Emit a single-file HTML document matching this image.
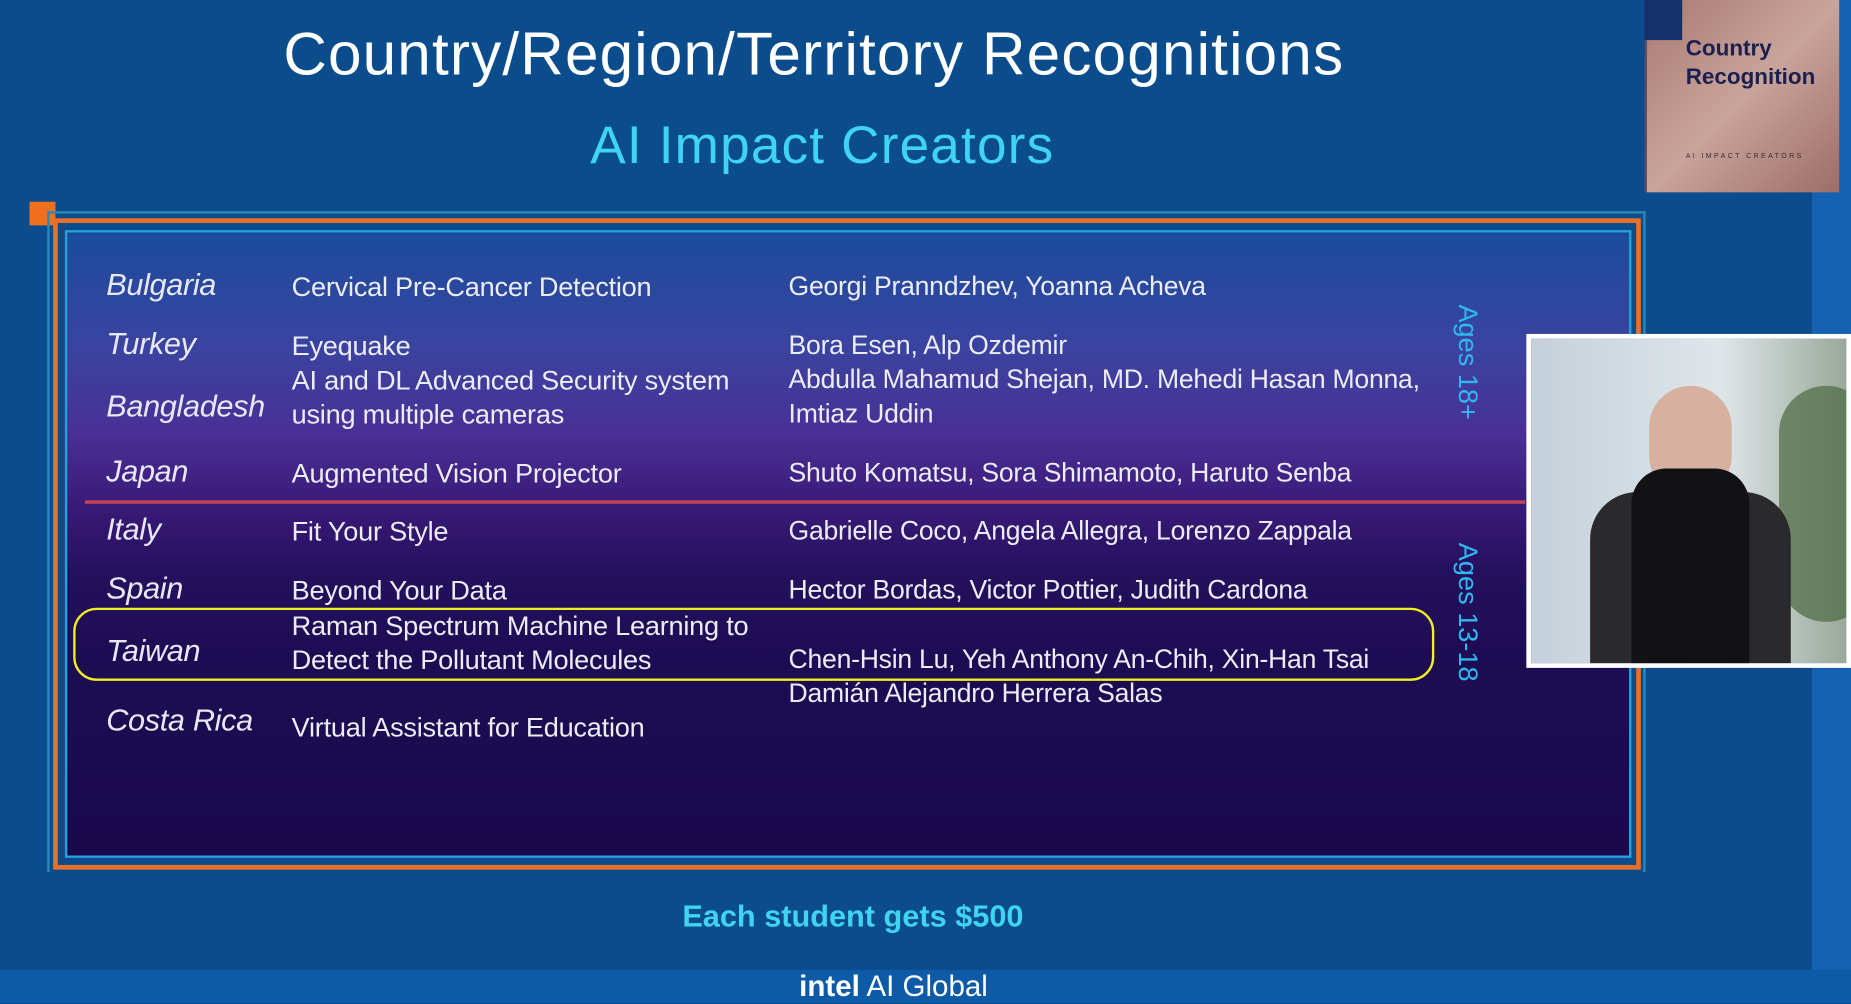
<!DOCTYPE html>
<html><head><meta charset="utf-8"><style>
*{margin:0;padding:0;box-sizing:border-box}
body{width:1851px;height:1003px;overflow:hidden;background:#0b4c8c;font-family:"Liberation Sans",sans-serif}
#s{position:absolute;left:0;top:0;width:1568px;height:850px;transform:scale(1.18048,1.18)translateZ(0);transform-origin:0 0;background:#0b4c8c}
.a{position:absolute;white-space:nowrap}
.c{font-style:italic;color:#e8e8f4;font-size:26px;left:90px;letter-spacing:-0.3px}
.p{color:#ececf4;font-size:23px;left:247px;letter-spacing:-0.2px}
.n{color:#ececf4;font-size:22.5px;left:668px;letter-spacing:-0.2px}
.v{color:#30b8f0;font-size:23px;transform:rotate(90deg);transform-origin:0 0}
</style></head><body>
<div id="s">
<div class="a" style="left:1535px;top:0;width:33px;height:850px;background:#1562b2"></div>
<div class="a" style="left:0;top:822px;width:1568px;height:28px;background:#0d5aa6"></div>
<div class="a" style="left:677px;top:822px;color:#fff;font-size:25px"><b>intel</b> AI Global</div>
<div class="a" style="left:240px;top:16px;color:#fff;font-size:51px;letter-spacing:1px">Country/Region/Territory Recognitions</div>
<div class="a" style="left:500px;top:97px;color:#40d4f4;font-size:45px;letter-spacing:1px">AI Impact Creators</div>
<div class="a" style="left:1393px;top:0;width:165px;height:163px;background:linear-gradient(135deg,#a87a70,#c9a49a 50%,#9c6e66);border-left:2px solid #5a4a6a"></div>
<div class="a" style="left:1393px;top:0;width:32px;height:34px;background:#15306a"></div>
<div class="a" style="left:1428px;top:30px;color:#1c2050;font-size:19px;font-weight:bold;line-height:24px">Country<br>Recognition</div>
<div class="a" style="left:1428px;top:130px;color:#3a2a3a;font-size:6px;letter-spacing:2px">AI IMPACT CREATORS</div>
<div class="a" style="left:25px;top:171px;width:22px;height:20px;background:#f07020"></div>
<div class="a" style="left:40px;top:179px;width:1354px;height:560px;border:2px solid #2a8ab0;border-bottom:none"></div>
<div class="a" style="left:45px;top:185px;width:1345px;height:552px;border:4px solid #e8702a"></div>
<div class="a" style="left:55px;top:195px;width:1327px;height:532px;background:linear-gradient(180deg,#1a4c9c 0%,#3a44a0 18%,#4a3096 32%,#3a1a78 44%,#24105c 55%,#1c0c52 70%,#1a0a4c 100%);border:2px solid #2aa0d8"></div>
<div class="a" style="left:72px;top:424px;width:1220px;height:3px;background:#c04458"></div>
<div class="a c" style="top:226px">Bulgaria</div><div class="a p" style="top:230px">Cervical Pre-Cancer Detection</div><div class="a n" style="top:230px">Georgi Pranndzhev, Yoanna Acheva</div>
<div class="a c" style="top:276px">Turkey</div><div class="a p" style="top:280px">Eyequake</div><div class="a n" style="top:280px">Bora Esen, Alp Ozdemir</div>
<div class="a c" style="top:329px">Bangladesh</div><div class="a p" style="top:309px">AI and DL Advanced Security system</div><div class="a p" style="top:338px">using multiple cameras</div><div class="a n" style="top:309px">Abdulla Mahamud Shejan, MD. Mehedi Hasan Monna,</div><div class="a n" style="top:338px">Imtiaz Uddin</div>
<div class="a c" style="top:384px">Japan</div><div class="a p" style="top:388px">Augmented Vision Projector</div><div class="a n" style="top:388px">Shuto Komatsu, Sora Shimamoto, Haruto Senba</div>
<div class="a c" style="top:433px">Italy</div><div class="a p" style="top:437px">Fit Your Style</div><div class="a n" style="top:437px">Gabrielle Coco, Angela Allegra, Lorenzo Zappala</div>
<div class="a c" style="top:483px">Spain</div><div class="a p" style="top:487px">Beyond Your Data</div><div class="a n" style="top:487px">Hector Bordas, Victor Pottier, Judith Cardona</div>
<div class="a c" style="top:536px">Taiwan</div><div class="a p" style="top:517px">Raman Spectrum Machine Learning to</div><div class="a p" style="top:546px">Detect the Pollutant Molecules</div><div class="a n" style="top:546px">Chen-Hsin Lu, Yeh Anthony An-Chih, Xin-Han Tsai</div>
<div class="a c" style="top:595px">Costa Rica</div><div class="a p" style="top:603px">Virtual Assistant for Education</div><div class="a n" style="top:575px">Damián Alejandro Herrera Salas</div>
<div class="a" style="left:62px;top:515px;width:1153px;height:62px;border:2px solid #f0f020;border-radius:20px"></div>
<div class="a v" style="left:1257px;top:258px">Ages 18+</div>
<div class="a v" style="left:1257px;top:460px">Ages 13-18</div>
<div class="a" style="left:578px;top:761px;color:#40d4f0;font-size:26px;font-weight:bold">Each student gets $500</div>
<div class="a" style="left:1293px;top:283px;width:275px;height:283px;border:4px solid #fff;background:linear-gradient(90deg,#c4d0da,#dfe6ea 60%,#9aa89a);overflow:hidden">
<div class="a" style="left:210px;top:40px;width:80px;height:200px;background:#4a6a40;border-radius:40px;opacity:.7"></div>
<div class="a" style="left:50px;top:130px;width:170px;height:150px;background:#2a2a2c;border-radius:40px 40px 0 0"></div>
<div class="a" style="left:100px;top:40px;width:70px;height:90px;background:#d8b0a0;border-radius:35px 35px 30px 30px"></div>
<div class="a" style="left:85px;top:110px;width:100px;height:170px;background:#121214;border-radius:30px 30px 0 0"></div>
</div>
</div>
</body></html>
